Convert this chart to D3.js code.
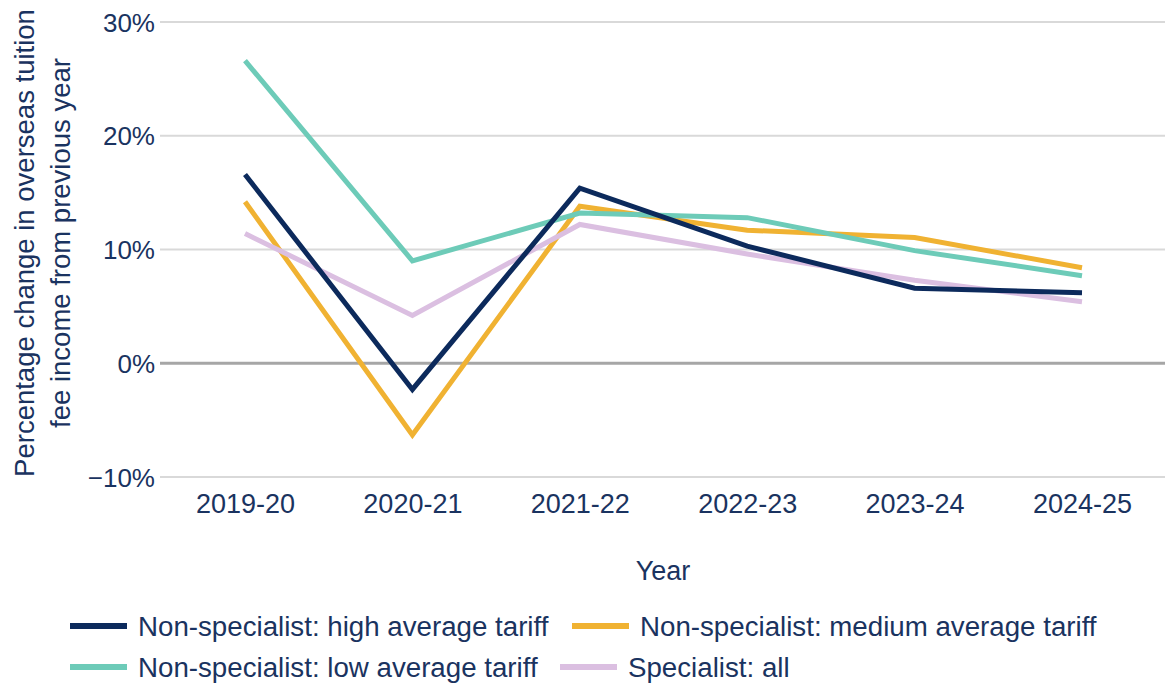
<!DOCTYPE html>
<html><head><meta charset="utf-8">
<script src="https://cdn.jsdelivr.net/npm/d3@7"></script>
<style>body{margin:0;background:#fff;} svg{display:block;font-family:"Liberation Sans",Arial,sans-serif;}</style>
</head><body>
<svg id="c" width="1165" height="684"></svg>
<script>
const years = ["2019-20","2020-21","2021-22","2022-23","2023-24","2024-25"];
const highTariff = [16.6, -2.3, 15.4, 10.3, 6.6, 6.2];
const mediumTariff = [14.2, -6.3, 13.8, 11.7, 11.05, 8.4];
const lowTariff = [26.6, 9.0, 13.2, 12.8, 9.9, 7.7];
const specialist = [11.4, 4.2, 12.2, 9.6, 7.3, 5.4];
const yTicks = [-10, 0, 10, 20, 30];
const seriesNames = ["Non-specialist: high average tariff","Non-specialist: medium average tariff","Non-specialist: low average tariff","Specialist: all"];
const seriesColors = ["#0c2a5c","#f0b232","#6dcbb8","#dbbfe1"];

const series = [highTariff, mediumTariff, lowTariff, specialist].map((v,i)=>({name:seriesNames[i], color:seriesColors[i], values:v}));
const textColor = "#1a3360";
const svg = d3.select("#c");
const x = d3.scalePoint().domain(years).range([245, 1082]);
const y = d3.scaleLinear().domain([-10, 30]).range([477, 22]);

// gridlines
const grid = svg.append("g");
grid.selectAll("line").data(yTicks).join("line")
  .attr("x1",160).attr("x2",1165)
  .attr("y1",d=>y(d)).attr("y2",d=>y(d))
  .attr("stroke",d=>d===0?"#a6a6a6":"#d9d9d9")
  .attr("stroke-width",d=>d===0?3:2);

// y axis labels
const yAxis = d3.axisLeft(y).tickValues(yTicks).tickSize(0).tickPadding(0)
  .tickFormat(d=>(d<0?"\u2212"+Math.abs(d):d)+"%");
const yg = svg.append("g").attr("transform","translate(155,0)").call(yAxis);
yg.select(".domain").remove();
yg.selectAll("text").attr("font-size",26).attr("fill",textColor).attr("font-family","Liberation Sans, Arial, sans-serif").attr("dy","0.35em");

// x axis labels
const xAxis = d3.axisBottom(x).tickSize(0).tickPadding(0);
const xg = svg.append("g").attr("transform","translate(0,513)").call(xAxis);
xg.select(".domain").remove();
xg.selectAll("text").attr("font-size",27).attr("fill",textColor).attr("font-family","Liberation Sans, Arial, sans-serif").attr("dy","0");

// axis titles
svg.append("text").attr("x",663).attr("y",580).attr("text-anchor","middle")
  .attr("font-size",27).attr("fill",textColor).text("Year");
const yt = svg.append("text").attr("transform","translate(0,243) rotate(-90)")
  .attr("text-anchor","middle").attr("font-size",27.5).attr("fill",textColor);
yt.append("tspan").attr("x",0).attr("y",34).text("Percentage change in overseas tuition");
yt.append("tspan").attr("x",0).attr("y",70).text("fee income from previous year");

// lines
const line = d3.line().x((d,i)=>x(years[i])).y(d=>y(d));
svg.append("g").selectAll("path").data(series).join("path")
  .attr("d",d=>line(d.values)).attr("fill","none")
  .attr("stroke",d=>d.color).attr("stroke-width",5);
svg.selectAll("path").filter(d=>d&&d.name===seriesNames[0]).raise();

// legend
const legPos = [[70,626],[572,626],[70,667],[560,667]];
const leg = svg.append("g");
series.forEach((s,i)=>{
  const [lx,ly]=legPos[i];
  leg.append("line").attr("x1",lx).attr("x2",lx+57).attr("y1",ly).attr("y2",ly)
    .attr("stroke",s.color).attr("stroke-width",6);
  leg.append("text").attr("x",lx+68).attr("y",ly).attr("dy","0.35em")
    .attr("font-size",27.7).attr("fill",textColor).text(s.name);
});
</script>
</body></html>
